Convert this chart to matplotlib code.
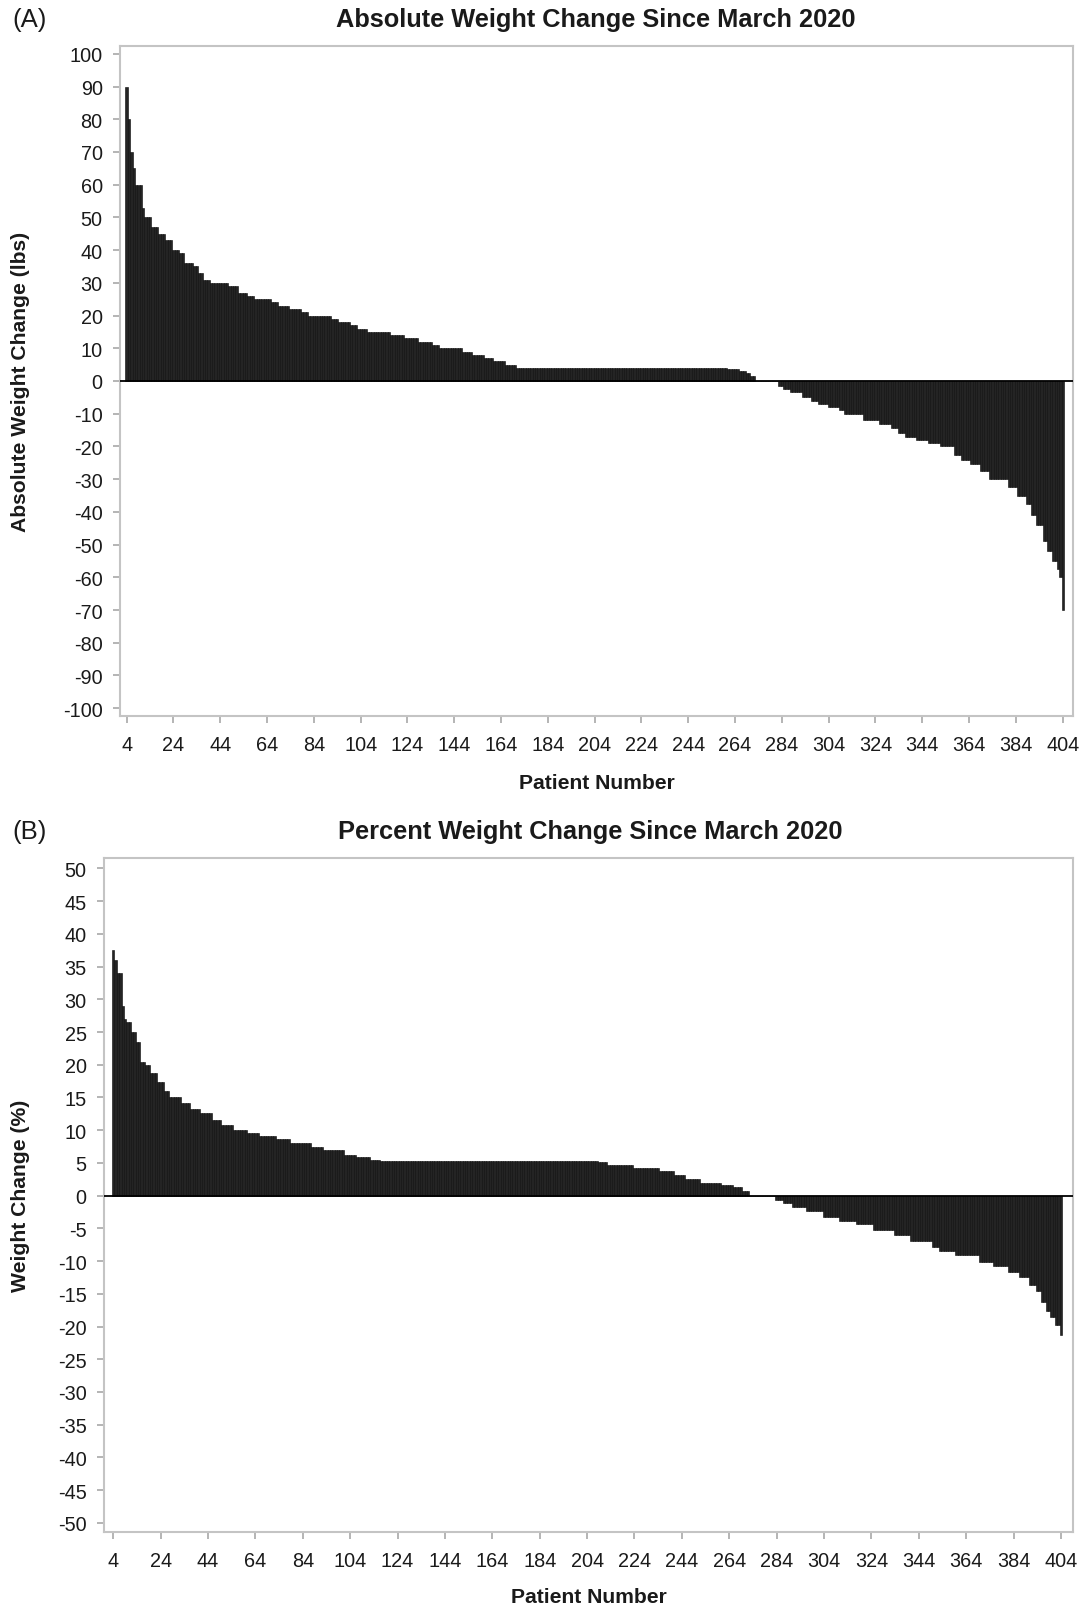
import numpy as np
import matplotlib
matplotlib.use("Agg")
import matplotlib.pyplot as plt

plt.rcParams['font.family'] = ['Liberation Sans', 'DejaVu Sans']
plt.rcParams['axes.unicode_minus'] = False

first_patient = 4

# (A) absolute change in lbs, sorted: level and how many patients sit on it
abs_levels = [90, 80, 70, 65, 60, 53, 50, 47, 45, 43, 40, 39, 36, 35, 33, 31, 30, 29, 27, 26,
              25, 24, 23, 22, 21, 20, 19, 18, 17, 16, 15, 14, 13, 12, 11, 10, 9, 8, 7, 6,
              5, 4, 3.8, 3, 2.5, 1.5, 0,
              -1.5, -2.5, -3.5, -5, -6, -7, -8, -9, -10, -12, -13, -14.5, -16, -17, -18, -19,
              -20, -22.5, -24, -25.5, -27.5, -30, -32.5, -35, -37.5, -41, -44, -49, -52, -55,
              -57.5, -60, -70]
abs_runs = [1, 1, 1, 1, 3, 1, 3, 3, 3, 3, 3, 2, 4, 2, 2, 3, 8, 4, 4, 3,
            7, 3, 5, 5, 3, 10, 3, 5, 3, 4, 10, 6, 6, 6, 3, 10, 4, 5, 4, 5,
            5, 90, 5, 3, 2, 2, 10,
            2, 3, 5, 4, 3, 4, 5, 2, 8, 7, 5, 3, 3, 5, 5, 5,
            6, 3, 4, 4, 4, 8, 4, 4, 2, 2, 3, 2, 2, 2,
            1, 1, 1]

# (B) percent change
pct_levels = [37.6, 36, 34, 29, 27, 26.5, 25, 23.5, 20.5, 20, 18.7, 17.4, 16, 15, 14.1, 13.3,
              12.6, 11.5, 10.8, 10.1, 9.6, 9.1, 8.6, 8.1, 7.5, 7.0, 6.2, 5.9, 5.5,
              5.3, 5.1, 4.7, 4.2, 3.7, 3.2, 2.5, 1.9, 1.6, 1.3, 0.7, 0,
              -0.6, -1.1, -1.7, -2.4, -3.2, -3.8, -4.4, -5.2, -6.0, -7.0, -7.9, -8.4, -9.1,
              -10.1, -10.8, -11.6, -12.4, -13.6, -14.6, -16.2, -17.7, -18.5, -19.8, -21.3]
pct_runs = [1, 1, 2, 1, 1, 2, 2, 2, 2, 2, 3, 3, 2, 5, 4, 4,
            5, 4, 5, 6, 5, 7, 6, 9, 5, 9, 5, 6, 4,
            92, 4, 11, 11, 6, 5, 6, 9, 5, 4, 3, 11,
            3, 4, 6, 7, 7, 7, 7, 9, 7, 9, 3, 7, 10,
            6, 6, 5, 4, 3, 2, 2, 2, 2, 2, 1]

tick_patients = list(range(4, 405, 20))

abs_change = np.repeat(abs_levels, abs_runs)
pct_change = np.repeat(pct_levels, pct_runs)

W, H = 1083, 1608
fig = plt.figure(figsize=(W / 100, H / 100), dpi=100)


def px_axes(left, top, right, bottom):
    return fig.add_axes([left / W, 1 - bottom / H, (right - left) / W, (bottom - top) / H])


def style(ax, values, ylim, yticks, xlim, ylabel, ylab_x):
    patients = np.arange(first_patient, first_patient + len(values))
    ax.bar(patients, values, width=1.0, color='#242424', edgecolor='#080808', linewidth=0.4)
    ax.axhline(0, color='black', lw=1.3, zorder=3)
    ax.set_xlim(*xlim)
    ax.set_ylim(*ylim)
    ax.set_xticks(tick_patients)
    ax.set_yticks(yticks)
    for s in ax.spines.values():
        s.set_color('#c4c4c4')
        s.set_linewidth(1.5)
    ax.tick_params(axis='both', colors='#a8a8a8', labelcolor='#1a1a1a', labelsize=14.3,
                   length=5, width=1.2)
    ax.tick_params(axis='x', pad=8.5)
    ax.tick_params(axis='y', pad=7.5)
    ax.set_xlabel('Patient Number', fontsize=15.2, fontweight='bold', color='#1a1a1a')
    ax.set_ylabel(ylabel, fontsize=15.2, fontweight='bold', color='#1a1a1a')
    ax.yaxis.set_label_coords(ylab_x, 0.5)


ax1 = px_axes(120, 47, 1073, 717)
style(ax1, abs_change, (-102.4, 102.4), range(-100, 101, 10), (1.15, 408.4),
      'Absolute Weight Change (lbs)', -0.094)
ax1.xaxis.set_label_coords(0.5, -0.085)

ax2 = px_axes(104, 859, 1073, 1533)
style(ax2, pct_change, (-51.4, 51.6), range(-50, 51, 5), (0.1, 409.1),
      'Weight Change (%)', -0.076)
ax2.xaxis.set_label_coords(0.5, -0.081)

fig.text(596 / W, 1 - 20.5 / H, 'Absolute Weight Change Since March 2020',
         ha='center', va='center', fontsize=18.3, fontweight='bold', color='#1a1a1a')
fig.text(590 / W, 1 - 832 / H, 'Percent Weight Change Since March 2020',
         ha='center', va='center', fontsize=18.3, fontweight='bold', color='#1a1a1a')
fig.text(12 / W, 1 - 19.5 / H, '(A)', ha='left', va='center', fontsize=18.5, color='#1a1a1a')
fig.text(12 / W, 1 - 832 / H, '(B)', ha='left', va='center', fontsize=18.5, color='#1a1a1a')

fig.savefig('out.png', dpi=100, facecolor='white')
